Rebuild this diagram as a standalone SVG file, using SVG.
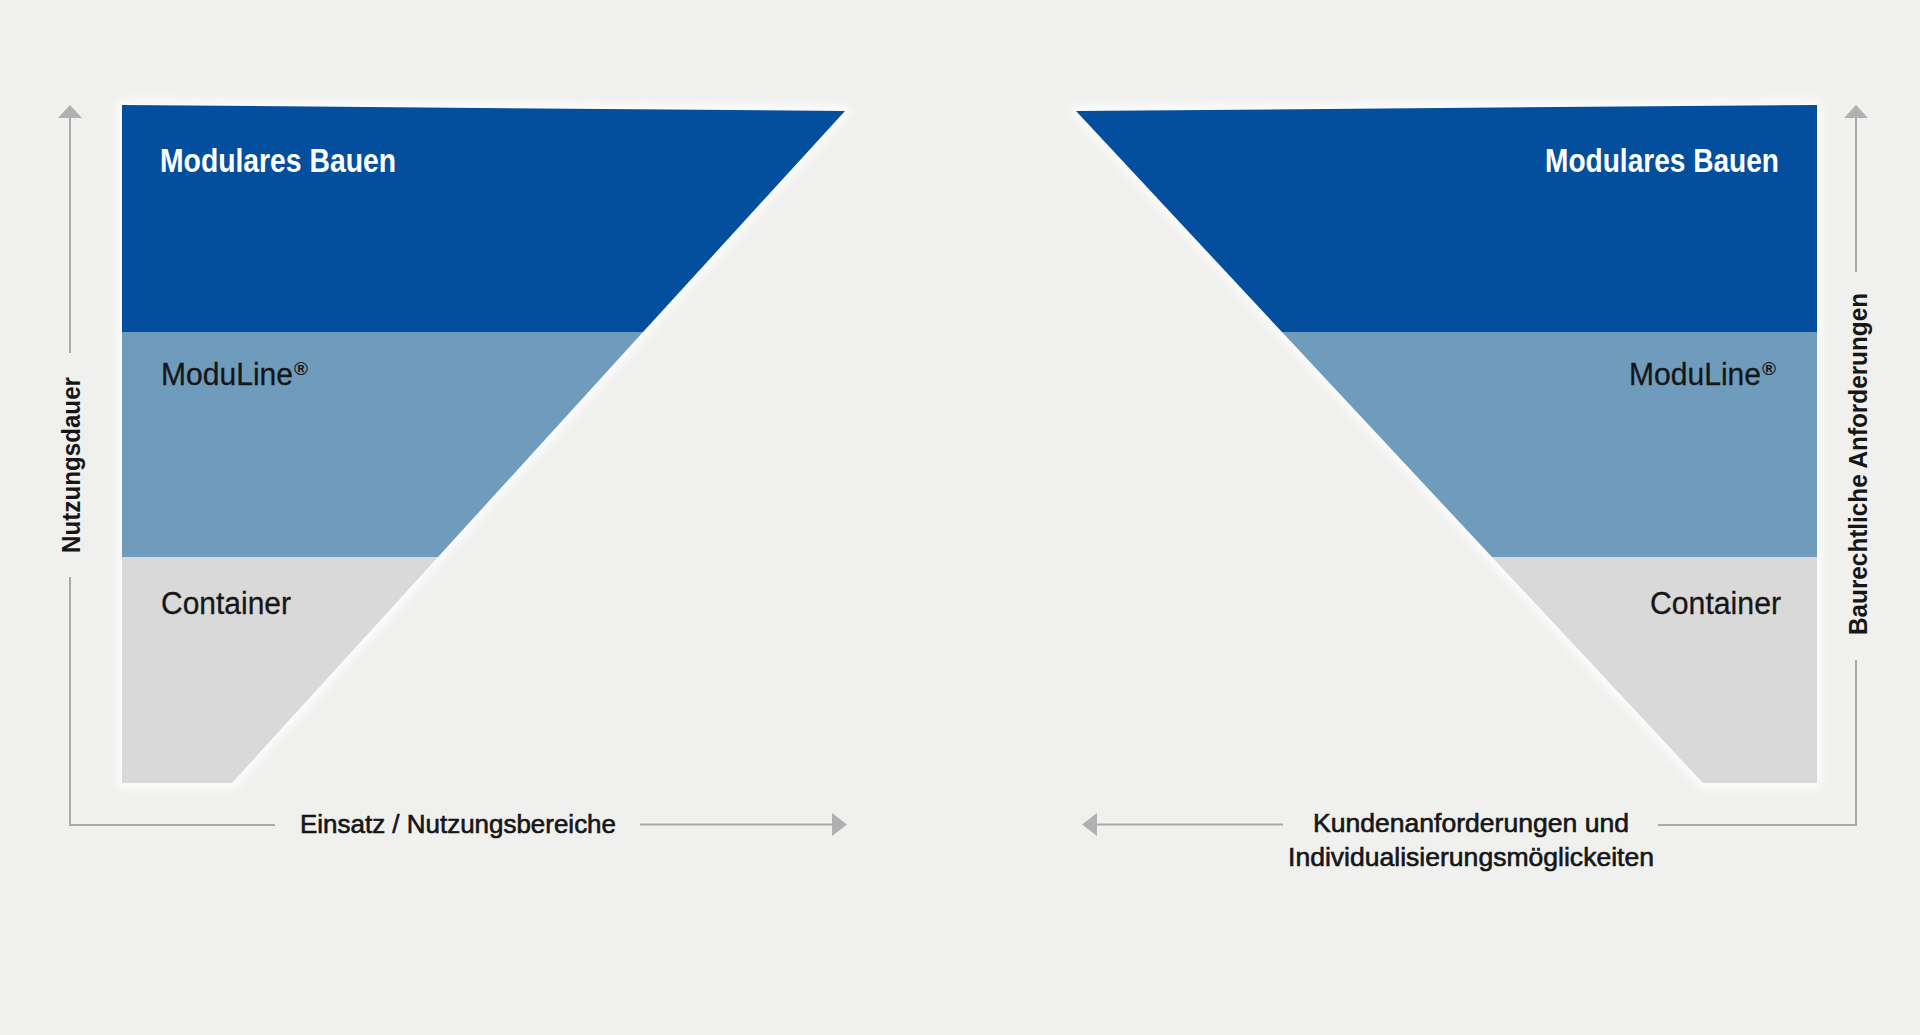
<svg xmlns="http://www.w3.org/2000/svg" width="1920" height="1035" viewBox="0 0 1920 1035">
<defs>
<style>
.dark{fill:#034f9e}
.mid{fill:#6f9bbd}
.grey{fill:#d9d9d9}
.axis{stroke:#a9a9a9;stroke-width:2;fill:none}
.head{fill:#b0b0b0}
.lbl{font-family:"Liberation Sans",Arial,sans-serif;fill:#161616}
.white{font-family:"Liberation Sans",Arial,sans-serif;fill:#ffffff;font-weight:bold;font-size:33px}
.cat{font-size:31px;stroke:#161616;stroke-width:0.3}
.reg{font-size:19px;font-weight:bold}
.ax{font-size:25px;stroke:#161616;stroke-width:0.6}
.axb{font-size:25px;font-weight:bold}
.halo{fill:none;stroke:#ffffff;stroke-width:10;stroke-linejoin:round}
</style>
<filter id="blur" x="-5%" y="-5%" width="110%" height="110%"><feGaussianBlur stdDeviation="4"/></filter>
</defs>
<rect width="1920" height="1035" fill="#f0f0ef"/>
<g filter="url(#blur)" opacity="0.9">
<polygon class="halo" points="122,105 845,111 232,783 122,783"/>
<polygon class="halo" points="1076,111 1817,105 1817,783 1703,783"/>
</g>
<g id="left-modulares-bauen">
<polygon class="dark" points="122,105 845,111 643,332 122,332"/>
<text class="white" x="160" y="172" textLength="236" lengthAdjust="spacingAndGlyphs">Modulares Bauen</text>
</g>
<g id="left-moduline">
<polygon class="mid" points="122,332 643,332 438,557 122,557"/>
<text class="lbl cat" x="161" y="385" textLength="132" lengthAdjust="spacingAndGlyphs">ModuLine</text>
<text class="lbl reg" x="294" y="375">®</text>
</g>
<g id="left-container">
<polygon class="grey" points="122,557 438,557 232,783 122,783"/>
<text class="lbl cat" x="161" y="614" textLength="130" lengthAdjust="spacingAndGlyphs">Container</text>
</g>
<g id="right-modulares-bauen">
<polygon class="dark" points="1076,111 1817,105 1817,332 1282,332"/>
<text class="white" x="1545" y="172" textLength="234" lengthAdjust="spacingAndGlyphs">Modulares Bauen</text>
</g>
<g id="right-moduline">
<polygon class="mid" points="1282,332 1817,332 1817,557 1492,557"/>
<text class="lbl cat" x="1629" y="385" textLength="132" lengthAdjust="spacingAndGlyphs">ModuLine</text>
<text class="lbl reg" x="1762" y="375">®</text>
</g>
<g id="right-container">
<polygon class="grey" points="1492,557 1817,557 1817,783 1703,783"/>
<text class="lbl cat" x="1650" y="614" textLength="131" lengthAdjust="spacingAndGlyphs">Container</text>
</g>
<g id="connectors">
<path class="axis" d="M70,116 V353 M70,577 V825 H275 M640,824.5 H834"/>
<polygon class="head" points="70,105 82,118 58,118"/>
<polygon class="head" points="847,824.5 832,813 832,836"/>
<path class="axis" d="M1856,116 V272 M1856,660 V825 H1658 M1283,824.5 H1095"/>
<polygon class="head" points="1856,105 1868,118 1844,118"/>
<polygon class="head" points="1082,824.5 1097,813 1097,836"/>
</g>
<g id="axis-labels">
<text class="lbl axb" transform="translate(80,465) rotate(-90)" text-anchor="middle" textLength="176" lengthAdjust="spacingAndGlyphs">Nutzungsdauer</text>
<text class="lbl axb" transform="translate(1867,464) rotate(-90)" text-anchor="middle" textLength="342" lengthAdjust="spacingAndGlyphs">Baurechtliche Anforderungen</text>
<text class="lbl ax" x="300" y="833" textLength="316" lengthAdjust="spacingAndGlyphs">Einsatz / Nutzungsbereiche</text>
<text class="lbl ax" x="1313" y="832" textLength="316" lengthAdjust="spacingAndGlyphs">Kundenanforderungen und</text>
<text class="lbl ax" x="1288" y="866" textLength="366" lengthAdjust="spacingAndGlyphs">Individualisierungsmöglickeiten</text>
</g>
</svg>
